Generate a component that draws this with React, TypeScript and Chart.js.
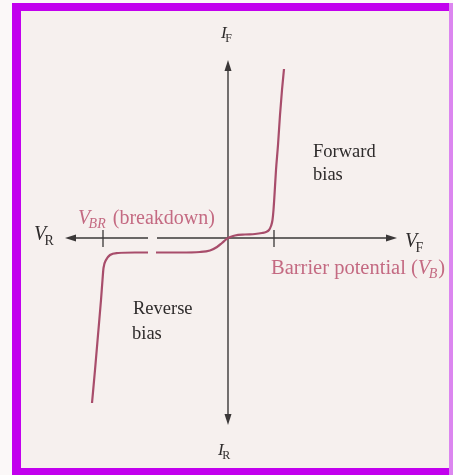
import React, { useEffect, useRef } from "react";
import { Chart, registerables } from "chart.js";

Chart.register(...registerables);

// Forward-bias branch (V, I) in arbitrary units
const forwardV = [0, 0.14, 0.34, 0.54, 0.68, 0.76, 0.82, 0.86, 0.89, 0.91, 0.93, 0.96, 1.0, 1.04, 1.08, 1.12];
const forwardI = [0, 0.05, 0.07, 0.08, 0.1, 0.12, 0.16, 0.24, 0.36, 0.56, 0.86, 1.36, 1.86, 2.46, 2.96, 3.38];

// Reverse-bias branch (null = break in the drawing)
const reverseV = [-2.72, -2.66, -2.6, -2.54, -2.51, -2.49, -2.44, -2.36, -2.2, -1.86, -1.6, -1.52, -1.44, -0.96, -0.56, -0.36, -0.22, -0.12, -0.04, 0];
const reverseI = [-3.3, -2.64, -1.94, -1.24, -0.84, -0.6, -0.44, -0.34, -0.3, -0.29, -0.29, null, -0.29, -0.29, -0.28, -0.25, -0.18, -0.1, -0.03, 0];

// Tick marks on the voltage axis: breakdown V_BR and barrier potential V_B
const tickLabels = ["V_BR", "V_B"];
const tickValues = [-2.5, 0.92];

// Axis extents (arrow tips) and the break in the voltage axis
const axisLeft = -3.26, axisRight = 3.38, axisTop = 3.56, axisBottom = -3.74;
const axisBreak = [-1.6, -1.42];

const X_MIN = -4.56, X_MAX = 4.5, Y_MIN = -4.74, Y_MAX = 4.76;

const SERIF = "'Liberation Serif', 'DejaVu Serif', serif";
const CURVE = "#a84d6b";
const PINK = "#c46a82";
const AXIS = "#3b3838";

function drawSub(ctx: CanvasRenderingContext2D, x: number, y: number, main: string, sub: string, size: number, color: string, subItalic = false, subDrop = 5) {
  ctx.fillStyle = color;
  ctx.font = `italic ${size}px ${SERIF}`;
  ctx.textAlign = "left";
  ctx.textBaseline = "alphabetic";
  ctx.fillText(main, x, y);
  const w = ctx.measureText(main).width;
  ctx.font = `${subItalic ? "italic " : ""}${Math.round(size * 0.68)}px ${SERIF}`;
  ctx.fillText(sub, x + w - size * 0.08, y + subDrop);
  return x + w - size * 0.08 + ctx.measureText(sub).width;
}

const decorPlugin = {
  id: "decor",
  beforeDraw(chart: any) {
    const { ctx, width, height } = chart;
    ctx.save();
    ctx.fillStyle = "#fbf8f8";
    ctx.fillRect(0, 0, width, height);
    ctx.fillStyle = "#c200ee";
    ctx.fillRect(12, 3, width - 12, 8);
    ctx.fillRect(12, 3, 9, height - 3);
    ctx.fillRect(12, height - 7, width - 12, 7);
    ctx.fillStyle = "#dc86f0";
    ctx.fillRect(width - 4, 3, 4, height - 3);
    ctx.fillStyle = "#f6f0ee";
    ctx.fillRect(21, 11, width - 25, height - 18);
    ctx.restore();
  },
  beforeDatasetsDraw(chart: any) {
    const { ctx } = chart;
    const xs = chart.scales.x, ys = chart.scales.y;
    const px = (v: number) => xs.getPixelForValue(v);
    const py = (v: number) => ys.getPixelForValue(v);
    const x0 = px(0), y0 = py(0);
    ctx.save();
    ctx.strokeStyle = AXIS;
    ctx.fillStyle = AXIS;
    ctx.lineWidth = 1.4;
    ctx.beginPath();
    ctx.moveTo(px(axisLeft) + 8, y0);
    ctx.lineTo(px(axisBreak[0]), y0);
    ctx.moveTo(px(axisBreak[1]), y0);
    ctx.lineTo(px(axisRight) - 8, y0);
    ctx.moveTo(x0, py(axisTop) + 8);
    ctx.lineTo(x0, py(axisBottom) - 8);
    ctx.stroke();
    ctx.lineWidth = 1.3;
    ctx.beginPath();
    tickValues.forEach((v) => {
      ctx.moveTo(px(v), y0 - 8);
      ctx.lineTo(px(v), y0 + 9);
    });
    ctx.stroke();
    const arrow = (tx: number, ty: number, dx: number, dy: number) => {
      const L = 11, W = 3.5;
      const bx = tx - dx * L, by = ty - dy * L;
      ctx.beginPath();
      ctx.moveTo(tx, ty);
      ctx.lineTo(bx - dy * W, by + dx * W);
      ctx.lineTo(bx + dy * W, by - dx * W);
      ctx.closePath();
      ctx.fill();
    };
    arrow(px(axisLeft), y0, -1, 0);
    arrow(px(axisRight), y0, 1, 0);
    arrow(x0, py(axisTop), 0, -1);
    arrow(x0, py(axisBottom), 0, 1);
    ctx.restore();
  },
  afterDatasetsDraw(chart: any) {
    const { ctx } = chart;
    const xs = chart.scales.x, ys = chart.scales.y;
    const px = (v: number) => xs.getPixelForValue(v);
    const py = (v: number) => ys.getPixelForValue(v);
    ctx.save();
    drawSub(ctx, px(-0.14), py(4.0), "I", "F", 17, "#2e2b2b", false, 4);
    drawSub(ctx, px(-0.2), py(-4.34), "I", "R", 17, "#2e2b2b", false, 4);
    drawSub(ctx, px(-3.88), py(-0.04), "V", "R", 20, "#2e2b2b", false, 5);
    drawSub(ctx, px(3.54), py(-0.18), "V", "F", 20, "#2e2b2b", false, 5);
    ctx.fillStyle = "#2e2b2b";
    ctx.font = `18.5px ${SERIF}`;
    ctx.textAlign = "left";
    ctx.textBaseline = "alphabetic";
    ctx.fillText("Forward", px(1.7), py(1.62));
    ctx.fillText("bias", px(1.7), py(1.16));
    ctx.fillText("Reverse", px(-1.9), py(-1.52));
    ctx.fillText("bias", px(-1.92), py(-2.02));
    let e = drawSub(ctx, px(-3.0), py(0.28), "V", "BR", 20, PINK, true, 4);
    ctx.fillStyle = PINK;
    ctx.font = `20px ${SERIF}`;
    ctx.fillText(" (breakdown)", e + 2, py(0.28));
    ctx.font = `20.5px ${SERIF}`;
    const s = "Barrier potential (";
    const bx = px(0.86), by = py(-0.72);
    ctx.fillText(s, bx, by);
    const w = ctx.measureText(s).width;
    e = drawSub(ctx, bx + w, by, "V", "B", 20.5, PINK, true, 4);
    ctx.fillStyle = PINK;
    ctx.font = `20.5px ${SERIF}`;
    ctx.fillText(")", e + 1, by);
    ctx.restore();
  },
};

export default function App() {
  const ref = useRef<HTMLCanvasElement | null>(null);
  useEffect(() => {
    document.body.style.margin = "0";
    if (!ref.current) return;
    const fwd = forwardV.map((v, i) => ({ x: v, y: forwardI[i] }));
    const rev = reverseV.map((v, i) => ({ x: v, y: reverseI[i] as any }));
    const chart = new Chart(ref.current, {
      type: "scatter",
      data: {
        datasets: [
          { label: "Forward bias", data: fwd, showLine: true, borderColor: CURVE, borderWidth: 2.2, pointRadius: 0, cubicInterpolationMode: "monotone", spanGaps: false } as any,
          { label: "Reverse bias", data: rev, showLine: true, borderColor: CURVE, borderWidth: 2.2, pointRadius: 0, cubicInterpolationMode: "monotone", spanGaps: false } as any,
        ],
      },
      options: {
        animation: false,
        responsive: false,
        devicePixelRatio: 1,
        layout: { padding: 0 },
        plugins: { legend: { display: false }, tooltip: { enabled: false } },
        scales: {
          x: { type: "linear", display: false, min: X_MIN, max: X_MAX },
          y: { type: "linear", display: false, min: Y_MIN, max: Y_MAX },
        },
      },
      plugins: [decorPlugin],
    });
    return () => chart.destroy();
  }, []);
  return (
    <div style={{ width: 453, height: 475 }}>
      <canvas ref={ref} width={453} height={475} style={{ display: "block" }} />
    </div>
  );
}
